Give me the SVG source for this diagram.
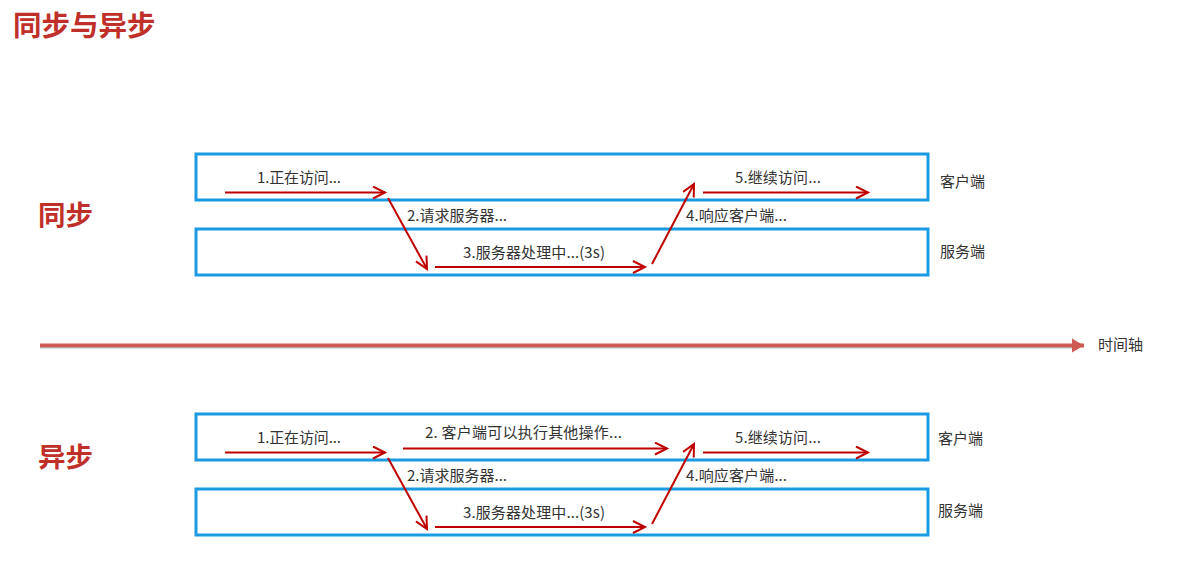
<svg xmlns="http://www.w3.org/2000/svg" width="1191" height="582" viewBox="0 0 1191 582">
<defs>
<style>
.box{fill:none;stroke:#1a9ae0;stroke-width:3}
.arr{fill:none;stroke:#c00000;stroke-width:2;marker-end:url(#ah)}
.lbl{font-family:"Noto Sans CJK SC","Noto Sans",sans-serif;font-size:15px;fill:#333}
.side{font-family:"Noto Sans CJK SC","Noto Sans",sans-serif;font-size:15px;fill:#333}
.big{font-family:"Noto Sans CJK SC",sans-serif;font-weight:bold;fill:#c0302a}
</style>
<marker id="ah" markerUnits="userSpaceOnUse" markerWidth="16" markerHeight="14" refX="13" refY="7" orient="auto">
<path d="M1,1 L13,7 L1,13" fill="none" stroke="#c00000" stroke-width="2"/>
</marker>
<marker id="th" markerUnits="userSpaceOnUse" markerWidth="14" markerHeight="16" refX="12" refY="8" orient="auto">
<path d="M0,1 L12,8 L0,15 Z" fill="#cd5a55"/>
</marker>
</defs>
<rect width="1191" height="582" fill="#ffffff"/>
<text class="big" x="13" y="36" font-size="28.5">同步与异步</text>
<text class="big" x="38" y="225" font-size="27.5">同步</text>
<text class="big" x="38" y="467" font-size="27.5">异步</text>

<g id="sync-client"><rect class="box" x="196" y="154" width="732" height="46"/><text class="side" x="940" y="187">客户端</text></g>
<g id="sync-server"><rect class="box" x="196" y="229" width="732" height="46"/><text class="side" x="940" y="257">服务端</text></g>
<g id="async-client"><rect class="box" x="196" y="414" width="732" height="46"/><text class="side" x="938" y="444">客户端</text></g>
<g id="async-server"><rect class="box" x="196" y="489" width="732" height="46"/><text class="side" x="938" y="516">服务端</text></g>

<g id="timeline">
<line x1="40" y1="347" x2="1076" y2="347" stroke="#9fc9d6" stroke-width="4" opacity="0.5"/>
<line x1="40" y1="345.5" x2="1084" y2="345.5" stroke="#cd5a55" stroke-width="4" marker-end="url(#th)"/>
<text class="lbl" x="1098" y="350" font-size="14">时间轴</text>
</g>

<g id="connectors">
<line class="arr" x1="225" y1="192.5" x2="385" y2="192.5"/>
<line class="arr" x1="388" y1="198" x2="427" y2="269"/>
<line class="arr" x1="435" y1="267" x2="645" y2="267"/>
<line class="arr" x1="652" y1="264" x2="694" y2="184"/>
<line class="arr" x1="703" y1="192.5" x2="868" y2="192.5"/>

<line class="arr" x1="225" y1="452.5" x2="385" y2="452.5"/>
<line class="arr" x1="403" y1="448.5" x2="667" y2="448.5"/>
<line class="arr" x1="388" y1="458" x2="427" y2="529"/>
<line class="arr" x1="435" y1="527" x2="645" y2="527"/>
<line class="arr" x1="652" y1="524" x2="694" y2="444"/>
<line class="arr" x1="703" y1="452.5" x2="868" y2="452.5"/>
</g>

<g id="labels">
<text class="lbl" x="257" y="183" textLength="84">1.正在访问...</text>
<text class="lbl" x="407" y="221" textLength="100">2.请求服务器...</text>
<text class="lbl" x="463" y="258" textLength="142">3.服务器处理中...(3s)</text>
<text class="lbl" x="686" y="221" textLength="101">4.响应客户端...</text>
<text class="lbl" x="735" y="183" textLength="86">5.继续访问...</text>

<text class="lbl" x="257" y="443" textLength="84">1.正在访问...</text>
<text class="lbl" x="425" y="438" textLength="197">2. 客户端可以执行其他操作...</text>
<text class="lbl" x="407" y="481" textLength="100">2.请求服务器...</text>
<text class="lbl" x="463" y="518" textLength="142">3.服务器处理中...(3s)</text>
<text class="lbl" x="686" y="481" textLength="101">4.响应客户端...</text>
<text class="lbl" x="735" y="443" textLength="86">5.继续访问...</text>
</g>
</svg>
